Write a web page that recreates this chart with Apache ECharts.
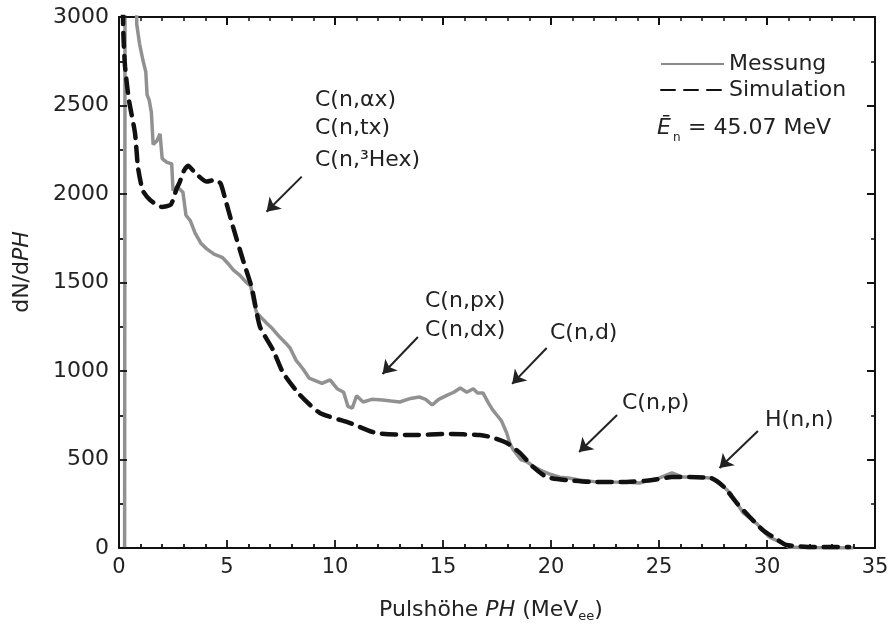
<!DOCTYPE html>
<html>
<head>
<meta charset="utf-8">
<script src="https://cdn.jsdelivr.net/npm/echarts@6.0.0/dist/echarts.min.js"></script>
<style>
html,body{margin:0;padding:0;background:#fff;}
#chart{width:891px;height:625px;}
</style>
</head>
<body>
<div id="chart"></div>
<script>
// Messung (gemessenes Pulshöhenspektrum)
var measX=[0.26,0.28,0.8,0.82,0.95,1.1,1.24,1.3,1.4,1.5,1.58,1.75,1.9,2.0,2.2,2.44,2.5,2.7,2.96,3.1,3.3,3.52,3.8,4.06,4.4,4.8,5.1,5.3,5.6,5.9,6.1,6.25,6.37,6.6,6.84,7.1,7.45,7.7,7.92,8.2,8.53,8.8,9.0,9.4,9.77,10.1,10.4,10.6,10.8,11.0,11.3,11.7,12.2,12.6,13.0,13.5,13.9,14.2,14.5,14.8,15.2,15.5,15.8,16.1,16.4,16.6,16.85,17.1,17.3,17.5,17.7,17.95,18.1,18.25,18.6,18.9,19.2,19.5,20.0,20.4,20.8,21.3,22.0,22.9,23.5,24.1,24.6,25.0,25.6,26.1,26.8,27.4,27.7,28.0,28.3,28.9,29.5,30.1,30.7,31.0,31.5,34.0];
var measY=[0,3300,3300,2960,2850,2760,2690,2560,2530,2460,2280,2300,2340,2200,2180,2170,2020,2040,2010,1880,1850,1780,1720,1690,1660,1640,1600,1570,1540,1500,1480,1380,1330,1300,1270,1240,1190,1160,1130,1060,1010,960,950,930,950,900,880,800,790,860,825,840,836,830,825,845,853,840,808,840,864,880,904,880,900,876,876,820,780,750,720,650,590,555,500,486,460,440,415,400,395,384,375,373,372,367,384,395,424,401,400,395,375,345,311,198,141,62,28,6,3,0];

// Simulation
var simX=[0.15,0.2,0.28,0.46,0.74,0.88,1.1,1.44,1.98,2.4,2.67,2.82,3.0,3.2,3.52,4.06,4.44,4.7,4.9,5.28,5.74,6.14,6.2,6.53,7.13,7.6,8.38,9.3,10.7,11.9,13.6,15.2,16.7,17.2,17.96,18.56,19.17,19.8,20.7,21.9,23.5,24.7,25.6,26.1,27.4,28.0,28.6,29.2,29.8,30.5,30.9,32.3,33.8];
var simY=[3300,2910,2720,2530,2345,2150,2020,1966,1927,1940,2030,2070,2130,2160,2120,2070,2080,2060,1980,1814,1627,1475,1441,1249,1119,989,864,763,706,650,638,644,638,627,593,537,458,401,384,373,373,384,401,401,395,345,254,175,102,45,17,5,5];

// Pfeile: Start und Spitze in Datenkoordinaten
var arrowFrom=[[8.46,2098],[13.84,1192],[19.8,1130],[23.06,751],[29.58,661]];
var arrowTo=[[6.83,1900],[12.2,983],[18.2,927],[21.3,542],[27.8,452]];

var xTicks=[0,5,10,15,20,25,30,35];
var yTicks=[0,500,1000,1500,2000,2500,3000];

var FONT='DejaVu Sans';
var GRID={left:119,right:16,top:17,bottom:77};
var PLOT_W=891-GRID.left-GRID.right, PLOT_H=625-GRID.top-GRID.bottom;

function zip(xs,ys){
    var out=[];
    for(var i=0;i<xs.length;i++){
        out.push([xs[i],ys[i]]);
    }
    return out;
}

var xMin=xTicks[0], xMax=xTicks[xTicks.length-1];
var yMin=yTicks[0], yMax=yTicks[yTicks.length-1];

var arrowData=arrowFrom.map(function(p,i){
    return [{coord:p},{coord:arrowTo[i]}];
});

// Ticks unten/links nach innen als kurze Markierungslinien
// (Pixel-Länge in Dateneinheiten umgerechnet)
var xPerPx=(xMax-xMin)/PLOT_W, yPerPx=(yMax-yMin)/PLOT_H;
var edgeTicks=[];
for(var i=0;i<xTicks.length;i++){
    edgeTicks.push([{coord:[xTicks[i],yMin]},{coord:[xTicks[i],yMin+8*yPerPx]}]);
    if(i<xTicks.length-1){
        for(var m=1;m<5;m++){
            var xm=xTicks[i]+m;
            edgeTicks.push([{coord:[xm,yMin]},{coord:[xm,yMin+4*yPerPx]}]);
        }
    }
}
for(var j=0;j<yTicks.length;j++){
    edgeTicks.push([{coord:[xMin,yTicks[j]]},{coord:[xMin+8*xPerPx,yTicks[j]]}]);
    if(j<yTicks.length-1){
        var ym=(yTicks[j]+yTicks[j+1])/2;
        edgeTicks.push([{coord:[xMin,ym]},{coord:[xMin+4*xPerPx,ym]}]);
    }
}

function merge(a,b){
    var o={};
    for(var k in a){o[k]=a[k];}
    for(var k2 in b){o[k2]=b[k2];}
    return o;
}

var xRange={min:xMin,max:xMax,interval:5};
var yRange={min:yMin,max:yMax,interval:500};

// Achse oben/rechts: Ticks nach innen (negative Länge)
function tickAxis(range,split,extra){
    return merge(merge(range,{
        type:'value',
        axisLine:{show:true,onZero:false,lineStyle:{color:'#111',width:2}},
        axisTick:{show:true,inside:false,length:-8,lineStyle:{color:'#111',width:2}},
        minorTick:{show:true,splitNumber:split,length:-4,lineStyle:{color:'#111',width:1.5}},
        splitLine:{show:false},
        axisLabel:{show:false}
    }),extra);
}

// Achse unten/links mit Linie und Beschriftung
function labelAxis(range,extra){
    return merge(merge(range,{
        type:'value',
        axisLine:{show:true,onZero:false,lineStyle:{color:'#111',width:2}},
        axisTick:{show:false},
        minorTick:{show:false},
        splitLine:{show:false}
    }),extra);
}

var chart=echarts.init(document.getElementById('chart'));

function txt(x,y,text,size,extra){
    var st={
        text:text,
        fontFamily:FONT,
        fontSize:size||22,
        fill:'#222',
        align:'left',
        verticalAlign:'middle'
    };
    for(var k in extra){st[k]=extra[k];}
    return {type:'text',x:x,y:y,style:st,silent:true};
}

var option={
    animation:false,
    backgroundColor:'#fff',
    grid:merge(GRID,{outerBoundsMode:'none'}),
    xAxis:[
        labelAxis(xRange,{
            position:'bottom',
            axisLabel:{show:true,fontFamily:FONT,fontSize:21,color:'#222',margin:9}
        }),
        tickAxis(xRange,5,{position:'top'})
    ],
    yAxis:[
        labelAxis(yRange,{
            position:'left',
            axisLabel:{show:true,fontFamily:FONT,fontSize:22,color:'#222',margin:10,
                formatter:function(v){return String(v);}}
        }),
        tickAxis(yRange,2,{position:'right'})
    ],
    legend:{
        orient:'vertical',
        left:655,
        top:48,
        itemWidth:63,
        itemHeight:14,
        itemGap:4,
        textStyle:{fontFamily:FONT,fontSize:22,color:'#222'},
        itemStyle:{opacity:0},
        data:[
            {name:'Messung',lineStyle:{width:2,color:'#8a8a8a'}},
            {name:'Simulation'}
        ]
    },
    series:[
        {
            name:'Messung',
            type:'line',
            xAxisIndex:0,yAxisIndex:0,
            data:zip(measX,measY),
            showSymbol:false,
            symbol:'none',
            clip:true,
            color:'#919191',
            lineStyle:{color:'#919191',width:3.5},
            markLine:{
                silent:true,
                symbol:['none','none'],
                label:{show:false},
                z:10,
                lineStyle:{color:'#111',width:1.8,type:'solid'},
                data:edgeTicks
            }
        },
        {
            name:'Simulation',
            type:'line',
            xAxisIndex:0,yAxisIndex:0,
            data:zip(simX,simY),
            showSymbol:false,
            symbol:'none',
            smooth:0.2,
            clip:true,
            color:'#111',
            lineStyle:{color:'#111',width:4.5,type:[14,9],cap:'round'},
            markLine:{
                silent:true,
                symbol:['none','arrow'],
                symbolSize:13,
                label:{show:false},
                lineStyle:{color:'#222',width:2,type:'solid'},
                data:arrowData
            }
        }
    ],
    graphic:[
        txt(315,100,'C(n,αx)'),
        txt(315,128,'C(n,tx)'),
        txt(315,160,'C(n,³Hex)'),
        txt(425,301,'C(n,px)'),
        txt(425,330,'C(n,dx)'),
        txt(550,333,'C(n,d)'),
        txt(622,403,'C(n,p)'),
        txt(765,420,'H(n,n)'),
        txt(657,128,'Ē',22,{fontStyle:'italic'}),
        txt(673,138,'n',12),
        txt(688,128,'= 45.07 MeV'),
        {
            type:'text',x:22,y:272,rotation:Math.PI/2,silent:true,
            style:{
                text:'dN/d{i|PH}',
                fontFamily:FONT,fontSize:22,fill:'#222',
                align:'center',verticalAlign:'middle',
                rich:{i:{fontFamily:FONT,fontSize:22,fontStyle:'italic',fill:'#222'}}
            }
        },
        {
            type:'text',x:491,y:610,silent:true,
            style:{
                text:'Pulshöhe {i|PH} (MeV{s|ee})',
                fontFamily:FONT,fontSize:22,fill:'#222',
                align:'center',verticalAlign:'middle',
                rich:{
                    i:{fontFamily:FONT,fontSize:22,fontStyle:'italic',fill:'#222'},
                    s:{fontFamily:FONT,fontSize:13,lineHeight:13,padding:[14,0,0,0],fill:'#222'}
                }
            }
        }
    ]
};

chart.setOption(option);
</script>
</body>
</html>
